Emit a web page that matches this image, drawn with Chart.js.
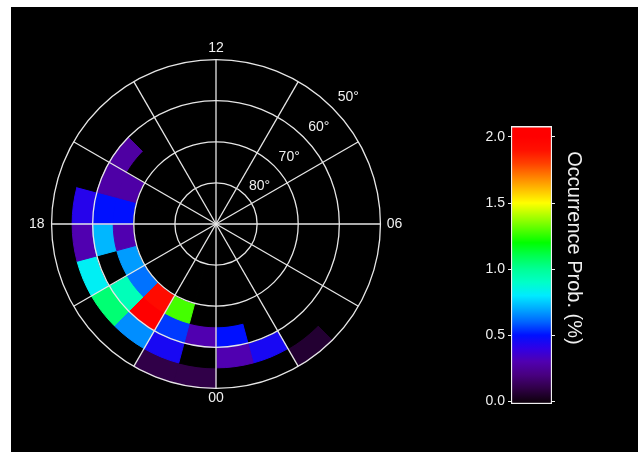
<!DOCTYPE html>
<html>
<head>
<meta charset="utf-8">
<script src="https://cdn.jsdelivr.net/npm/chart.js@4.4.1/dist/chart.umd.min.js"></script>
<style>
  html, body { margin: 0; padding: 0; background: #ffffff; width: 638px; height: 460px; overflow: hidden; }
  #frame { position: absolute; left: 11px; top: 7px; width: 627px; height: 445px; background: #000000; }
  #polarWrap { position: absolute; left: 29px; top: 36px; width: 374px; height: 374px; }
  #barWrap { position: absolute; left: 471px; top: 72px; width: 115px; height: 352px; }
  canvas { display: block; }
</style>
</head>
<body>
<div id="frame"></div>
<div id="polarWrap"><canvas id="polar" width="374" height="374"></canvas></div>
<div id="barWrap"><canvas id="cbar" width="115" height="352"></canvas></div>
<script>
// ---------------- DATA ----------------
// Occurrence probability (%) per 1-hour MLT bin (index = MLT hour h, bin h..h+1), null = no data
const prob65to70 = [null, null, null, null, null, null, null, null, null, null, null, null,
                    null, null, null, null, 0.28, 0.50, 0.30, 0.68, 0.62, 1.93, 1.28, null];
const prob60to65 = [0.50, null, null, null, null, null, null, null, null, null, null, null,
                    null, null, null, 0.27, 0.28, 0.50, 0.72, null, 0.93, 2.00, 0.55, 0.30];
const prob55to60 = [0.30, 0.45, null, null, null, null, null, null, null, null, null, null,
                    null, null, null, null, null, 0.42, 0.30, 0.82, 1.05, 0.66, 0.45, null];
const prob50to55 = [null, null, 0.06, null, null, null, null, null, null, null, null, null,
                    null, null, null, null, null, null, null, null, null, null, 0.10, 0.10];
// magnetic latitude bands [low, high] matching the series above (inner to outer)
const latBands = [[65, 70], [60, 65], [55, 60], [50, 55]];
// ring labels (magnetic latitude) and MLT dial labels
const latRingLabels = [80, 70, 60, 50];
const mltTickLabels = ['12', '06', '00', '18'];
// colour bar
const colorbarTicks = [0.0, 0.5, 1.0, 1.5, 2.0];
const colorbarRange = [-0.02, 2.08];
const colorbarAxis = [-0.02, 2.34];

// ---------------- COLOUR MAP (style) ----------------
const colormap = [
  [0.00, [16, 0, 16]],
  [0.10, [48, 0, 72]],
  [0.20, [72, 0, 128]],
  [0.30, [80, 0, 176]],
  [0.40, [48, 0, 230]],
  [0.50, [0, 16, 255]],
  [0.60, [0, 100, 255]],
  [0.70, [0, 170, 255]],
  [0.80, [0, 235, 255]],
  [0.90, [0, 255, 200]],
  [1.00, [0, 255, 150]],
  [1.10, [0, 255, 80]],
  [1.20, [0, 255, 0]],
  [1.35, [128, 255, 0]],
  [1.50, [255, 255, 0]],
  [1.65, [255, 160, 0]],
  [1.80, [255, 64, 0]],
  [1.90, [255, 16, 0]],
  [2.00, [255, 0, 0]]
];
function rgb(c) { return 'rgb(' + c.map(v => Math.round(v)).join(',') + ')'; }
function colorFor(v) {
  if (v === null || v === undefined) return '#000000';
  if (v <= colormap[0][0]) return rgb(colormap[0][1]);
  for (let i = 1; i < colormap.length; i++) {
    if (v <= colormap[i][0]) {
      const [v0, c0] = colormap[i - 1];
      const [v1, c1] = colormap[i];
      const t = (v - v0) / (v1 - v0);
      return rgb(c0.map((c, j) => c + (c1[j] - c) * t));
    }
  }
  return rgb(colormap[colormap.length - 1][1]);
}

const FONT = '"Liberation Sans", Arial, sans-serif';
const INK = '#f0f0f0';
const GRID = '#e6e6e6';
Chart.defaults.font.family = FONT;

// ---------------- POLAR DIAL ----------------
// slice k runs clockwise from the top (12 MLT): it holds MLT bin (11-k)
const sliceCount = 24;
const sliceHours = Array.from({ length: sliceCount }, (_, k) => (11 - k + 24) % 24);
const sliceLabels = Array.from({ length: sliceCount }, (_, k) => String((12 - k + 24) % 24).padStart(2, '0'));
const bandSeries = [prob65to70, prob60to65, prob55to60, prob50to55];

const datasets = [];
// poleward mask (black) above the highest band
datasets.push({
  data: sliceHours.map(() => 90 - latBands[0][1]),
  backgroundColor: '#000000', borderColor: '#000000', borderWidth: 1
});
bandSeries.forEach((series, b) => {
  const colors = sliceHours.map(h => colorFor(series[h]));
  datasets.push({
    data: sliceHours.map(() => 90 - latBands[b][0]),
    backgroundColor: colors, borderColor: colors, borderWidth: 1
  });
});

const latLabelPlugin = {
  id: 'latLabels',
  afterDraw(chart) {
    const s = chart.scales.r;
    const ctx = chart.ctx;
    const k = 0.72;
    ctx.save();
    ctx.font = '14px ' + FONT;
    ctx.fillStyle = INK;
    ctx.textAlign = 'center';
    ctx.textBaseline = 'middle';
    latRingLabels.forEach(lat => {
      const d = s.getDistanceFromCenterForValue(90 - lat);
      ctx.fillText(lat + '°', s.xCenter + d * k + 14, s.yCenter - d * k - 8);
    });
    ctx.restore();
  }
};

const labelPadding = { 0: 3.5, 6: 6.4, 12: 1, 18: 7 };

new Chart(document.getElementById('polar'), {
  type: 'polarArea',
  data: { labels: sliceLabels, datasets: datasets },
  options: {
    responsive: false,
    animation: false,
    events: [],
    layout: { padding: 0 },
    plugins: { legend: { display: false }, tooltip: { enabled: false } },
    scales: {
      r: {
        min: 0, max: 40, startAngle: 0,
        ticks: { display: false, stepSize: 10 },
        afterBuildTicks: (s) => {
          s.ticks = [0].concat(latRingLabels.map(l => 90 - l)).sort((p, q) => p - q).map(v => ({ value: v }));
        },
        grid: { display: true, circular: true, color: GRID, lineWidth: 1.3, z: 1 },
        angleLines: { display: true, color: GRID, lineWidth: (c) => (c.index % 2 === 0 ? 1.3 : 0) },
        pointLabels: {
          display: true,
          padding: (c) => (labelPadding[c.index] !== undefined ? labelPadding[c.index] : 4),
          color: INK,
          font: { size: 14, family: FONT, lineHeight: 1.2 },
          callback: (label) => (mltTickLabels.includes(label) ? label : '')
        }
      }
    }
  },
  plugins: [latLabelPlugin]
});

// ---------------- COLOUR BAR ----------------
function barGradient(context) {
  const chart = context.chart;
  const { chartArea, scales } = chart;
  if (!chartArea || !scales.y) return colorFor(1);
  const y0 = scales.y.getPixelForValue(colorbarTicks[0]);
  const y1 = scales.y.getPixelForValue(colorbarTicks[colorbarTicks.length - 1]);
  const span = colorbarTicks[colorbarTicks.length - 1] - colorbarTicks[0];
  const g = chart.ctx.createLinearGradient(0, y0, 0, y1);
  colormap.forEach(([v, c]) => g.addColorStop((v - colorbarTicks[0]) / span, rgb(c)));
  return g;
}
const setTicks = (s) => { s.ticks = colorbarTicks.map(v => ({ value: v })); };

new Chart(document.getElementById('cbar'), {
  type: 'bar',
  data: {
    labels: [''],
    datasets: [{
      data: [colorbarRange],
      backgroundColor: barGradient,
      borderColor: INK,
      borderWidth: 1.5,
      borderSkipped: false,
      barPercentage: 1,
      categoryPercentage: 1
    }]
  },
  options: {
    responsive: false,
    animation: false,
    events: [],
    layout: { padding: { top: 20, bottom: 20, left: 0, right: 0 } },
    plugins: { legend: { display: false }, tooltip: { enabled: false } },
    scales: {
      x: { display: false },
      y: {
        position: 'left', min: colorbarAxis[0], max: colorbarAxis[1],
        afterBuildTicks: setTicks,
        afterFit: (s) => { s.width = 40; },
        ticks: { color: INK, font: { size: 14 }, padding: 3, callback: (v) => Number(v).toFixed(1) },
        grid: { drawOnChartArea: false, drawTicks: true, tickLength: 3, color: INK },
        border: { display: false }
      },
      y2: {
        position: 'right', min: colorbarAxis[0], max: colorbarAxis[1],
        afterBuildTicks: setTicks,
        afterFit: (s) => { s.width = 34; },
        ticks: { display: false },
        grid: { drawOnChartArea: false, drawTicks: true, tickLength: 3, color: INK },
        border: { display: false },
        title: { display: true, text: 'Occurrence Prob. (%)', color: INK, font: { size: 20 }, padding: 0 }
      }
    }
  }
});
</script>
</body>
</html>
